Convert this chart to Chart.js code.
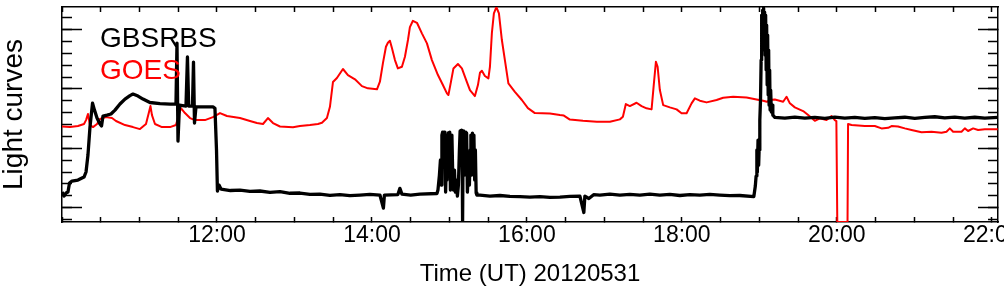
<!DOCTYPE html>
<html>
<head>
<meta charset="utf-8">
<script src="https://cdn.jsdelivr.net/npm/chart.js@4.4.0/dist/chart.umd.min.js"></script>
<style>
html, body { margin: 0; padding: 0; background: #fff; overflow: hidden; }
</style>
</head>
<body>
<canvas id="lc" width="1004" height="296"></canvas>
<script>
// time in decimal hours UT, flux in arbitrary plot units
var gbsTime = [
    10.000, 10.026, 10.052, 10.077, 10.097, 10.129, 10.206, 10.284, 10.310, 10.335,
    10.361, 10.394, 10.419, 10.452, 10.490, 10.510, 10.529, 10.581, 10.632, 10.684,
    10.748, 10.813, 10.877, 10.916, 10.981, 11.045, 11.135, 11.265, 11.394, 11.471,
    11.484, 11.497, 11.516, 11.600, 11.619, 11.635, 11.684, 11.697, 11.710, 11.729,
    11.845, 11.948, 11.974, 11.994, 12.006, 12.026, 12.052, 12.174, 12.297, 12.426,
    12.555, 12.684, 12.813, 12.942, 13.071, 13.200, 13.329, 13.458, 13.587, 13.716,
    13.845, 13.974, 14.103, 14.148, 14.161, 14.335, 14.361, 14.387, 14.500, 14.619,
    14.839, 14.852, 14.871, 14.884, 14.894, 14.903, 14.912, 14.923, 14.933, 14.942,
    14.951, 14.959, 14.968, 14.977, 14.987, 14.996, 15.004, 15.013, 15.022, 15.032,
    15.043, 15.052, 15.065, 15.077, 15.090, 15.103, 15.116, 15.129, 15.138, 15.148,
    15.157, 15.165, 15.170, 15.177, 15.184, 15.194, 15.203, 15.213, 15.222, 15.232,
    15.245, 15.258, 15.268, 15.277, 15.287, 15.297, 15.307, 15.316, 15.326, 15.335,
    15.345, 15.355, 15.394, 15.523, 15.652, 15.781, 15.910, 16.039, 16.168, 16.297,
    16.426, 16.555, 16.684, 16.735, 16.748, 16.800, 16.861, 16.942, 17.071, 17.200,
    17.329, 17.458, 17.587, 17.716, 17.845, 17.974, 18.103, 18.232, 18.361, 18.490,
    18.619, 18.748, 18.929, 18.948, 18.958, 18.968, 18.974, 18.983, 18.991, 18.997,
    19.006, 19.015, 19.023, 19.030, 19.036, 19.043, 19.049, 19.055, 19.062, 19.068,
    19.075, 19.081, 19.088, 19.094, 19.101, 19.107, 19.114, 19.120, 19.126, 19.133,
    19.139, 19.146, 19.155, 19.165, 19.174, 19.200, 19.329, 19.458, 19.587, 19.716,
    19.845, 19.974, 20.103, 20.232, 20.361, 20.490, 20.619, 20.748, 20.877, 21.006,
    21.135, 21.264, 21.393, 21.522, 21.651, 21.780, 21.909, 22.077
];
var gbsFlux = [
    1.32, 0.98, 1.24, 1.32, 2.08, 2.25, 2.33, 2.58, 3.01, 4.44,
    6.79, 8.81, 8.22, 7.55, 7.05, 6.89, 7.72, 7.80, 7.89, 8.22,
    8.73, 9.15, 9.44, 9.57, 9.40, 9.15, 8.86, 8.77, 8.73, 8.73,
    13.86, 5.61, 8.64, 8.56, 12.69, 8.56, 8.56, 12.26, 7.13, 8.50,
    8.50, 8.50, 8.37, 4.86, 1.41, 1.91, 1.57, 1.45, 1.49, 1.38,
    1.41, 1.30, 1.36, 1.22, 1.24, 1.12, 1.15, 1.05, 1.11, 1.02,
    1.07, 1.12, 1.07, -0.03, 1.07, 1.11, 1.63, 1.15, 1.07, 1.15,
    1.20, 1.49, 2.75, 4.02, 1.91, 6.12, 6.37, 3.59, 6.37, 4.86,
    1.32, 3.59, 2.33, 5.70, 6.29, 3.17, 6.37, 1.49, 4.86, 6.12,
    2.75, 1.49, 3.17, 1.32, 2.33, 0.98, 1.91, 4.86, 6.46, 3.59,
    6.54, 4.02, -1.30, 5.70, 6.46, 2.75, 6.37, 4.86, 6.29, 1.32,
    3.17, 1.91, 4.86, 6.12, 2.75, 6.29, 4.02, 6.12, 2.33, 4.86,
    1.24, 1.07, 1.07, 0.98, 1.03, 0.95, 0.93, 0.90, 0.93, 0.88,
    0.90, 0.95, 0.98, -0.40, 0.98, 0.78, 1.10, 1.07, 1.15, 1.07,
    1.12, 1.07, 1.15, 1.07, 1.12, 1.03, 1.10, 1.07, 1.12, 1.07,
    1.02, 1.03, 0.94, 1.83, 2.67, 4.86, 3.00, 5.70, 3.59, 4.86,
    7.38, 9.07, 12.43, 16.22, 13.27, 16.64, 13.70, 16.81, 14.12, 16.47,
    12.85, 16.22, 11.59, 15.38, 10.33, 14.54, 9.49, 13.27, 8.64, 11.59,
    8.22, 9.91, 8.06, 8.64, 7.80, 7.61, 7.55, 7.63, 7.55, 7.61,
    7.52, 7.63, 7.55, 7.61, 7.52, 7.58, 7.50, 7.57, 7.62, 7.52,
    7.60, 7.66, 7.57, 7.63, 7.55, 7.62, 7.55, 7.60
];

var goesTime = [
    10.000, 10.103, 10.206, 10.284, 10.310, 10.335, 10.361, 10.400, 10.452, 10.490,
    10.568, 10.645, 10.697, 10.813, 10.916, 11.006, 11.084, 11.123, 11.142, 11.161,
    11.200, 11.290, 11.394, 11.471, 11.510, 11.535, 11.587, 11.652, 11.716, 11.845,
    11.948, 12.039, 12.129, 12.297, 12.426, 12.516, 12.594, 12.658, 12.723, 12.813,
    12.981, 13.071, 13.200, 13.303, 13.355, 13.419, 13.458, 13.497, 13.548, 13.626,
    13.690, 13.781, 13.871, 13.948, 14.065, 14.103, 14.142, 14.181, 14.206, 14.232,
    14.258, 14.297, 14.335, 14.387, 14.426, 14.465, 14.490, 14.529, 14.581, 14.645,
    14.710, 14.774, 14.852, 14.916, 14.968, 14.987, 15.019, 15.052, 15.110, 15.161,
    15.226, 15.265, 15.329, 15.368, 15.394, 15.419, 15.458, 15.503, 15.523, 15.548,
    15.574, 15.606, 15.639, 15.677, 15.716, 15.761, 15.845, 15.935, 16.013, 16.103,
    16.297, 16.426, 16.477, 16.555, 16.723, 16.903, 17.071, 17.200, 17.239, 17.277,
    17.329, 17.415, 17.480, 17.544, 17.609, 17.639, 17.665, 17.687, 17.716, 17.759,
    17.845, 17.932, 17.996, 18.061, 18.125, 18.168, 18.232, 18.319, 18.448, 18.533,
    18.662, 18.835, 18.964, 19.049, 19.097, 19.135, 19.200, 19.307, 19.351, 19.394,
    19.458, 19.565, 19.630, 19.716, 19.781, 19.867, 19.932, 19.974, 19.994, 20.006,
    20.138, 20.145, 20.190, 20.361, 20.490, 20.577, 20.662, 20.706, 20.790, 20.877,
    20.964, 21.093, 21.222, 21.351, 21.415, 21.458, 21.501, 21.609, 21.652, 21.694,
    21.759, 21.823, 21.910, 22.077
];
var goesFlux = [
    6.84, 6.79, 6.88, 7.05, 7.38, 7.89, 6.96, 6.79, 7.05, 7.47,
    7.63, 7.55, 7.30, 6.96, 6.79, 6.62, 7.05, 8.06, 8.56, 7.80,
    7.05, 6.79, 6.79, 6.96, 7.89, 8.39, 7.97, 7.55, 7.38, 7.38,
    7.63, 7.97, 7.72, 7.55, 7.30, 7.13, 7.05, 7.55, 7.13, 6.84,
    6.77, 6.88, 6.96, 7.05, 7.15, 7.55, 8.50, 10.58, 10.92, 11.68,
    11.17, 10.81, 10.24, 10.05, 9.97, 10.61, 12.18, 13.55, 13.89, 14.06,
    13.44, 12.43, 11.73, 11.87, 12.71, 14.12, 15.21, 15.74, 15.57, 14.68,
    13.84, 12.43, 11.17, 10.33, 9.63, 9.49, 10.58, 11.73, 12.10, 11.73,
    10.58, 9.91, 9.40, 10.33, 11.36, 11.53, 11.09, 10.89, 11.87, 14.71,
    16.36, 16.89, 16.36, 14.12, 12.43, 10.47, 9.76, 9.07, 8.39, 7.97,
    7.93, 7.80, 7.76, 7.42, 7.32, 7.24, 7.24, 7.44, 7.66, 8.73,
    8.56, 8.84, 8.56, 8.37, 8.28, 10.47, 12.29, 11.87, 9.91, 8.64,
    8.45, 8.28, 7.95, 7.95, 8.79, 9.21, 9.01, 8.87, 9.07, 9.26,
    9.34, 9.29, 9.12, 9.01, 8.92, 9.07, 9.12, 8.92, 9.34, 8.79,
    8.45, 8.14, 7.80, 7.32, 7.53, 7.38, 7.72, 7.38, 7.30, -1.20,
    -1.20, 7.05, 6.96, 6.88, 6.88, 6.68, 6.73, 6.88, 6.84, 6.68,
    6.54, 6.35, 6.40, 6.31, 6.40, 6.68, 6.40, 6.40, 6.68, 6.46,
    6.68, 6.54, 6.60, 6.60
];

var labelHours = [12, 14, 16, 18, 20, 22];
var hourLabels = ['12:00', '14:00', '16:00', '18:00', '20:00', '22:00'];

function toPoints(t, v){
    var pts = [];
    for(var i = 0; i < t.length; i++){
        pts.push({x: t[i], y: v[i]});
    }
    return pts;
}

var fam = '"Liberation Sans", Arial, Helvetica, sans-serif';

// names of the curves written inside the plot, in the colour of the line
var curveNames = {
    id: 'curveNames',
    afterDatasetsDraw: function(chart){
        var ctx = chart.ctx;
        ctx.save();
        ctx.font = '28px ' + fam;
        ctx.textAlign = 'left';
        ctx.textBaseline = 'alphabetic';
        chart.data.datasets.forEach(function(ds, i){
            ctx.fillStyle = ds.borderColor;
            ctx.fillText(ds.label, 100, 47 + i * 31.6);
        });
        ctx.restore();
    }
};

var tickGrid = function(len){
    return { drawOnChartArea: false, tickLength: len, tickColor: '#000', tickWidth: 1.5 };
};
var frame = { display: true, color: '#000', width: 1.5 };

var ctx = document.getElementById('lc').getContext('2d');
var myChart = new Chart(ctx, {
    type: 'line',
    data: {
        datasets: [{
            label: 'GBSRBS',
            data: toPoints(gbsTime, gbsFlux),
            borderColor: '#000000',
            borderWidth: 3.3,
            borderJoinStyle: 'round',
            pointRadius: 0,
            tension: 0,
            xAxisID: 'x',
            yAxisID: 'y'
        },
        {
            label: 'GOES',
            data: toPoints(goesTime, goesFlux),
            borderColor: '#ff0000',
            borderWidth: 2,
            borderJoinStyle: 'round',
            pointRadius: 0,
            tension: 0,
            xAxisID: 'x',
            yAxisID: 'y'
        }]
    },
    options: {
        responsive: false,
        animation: false,
        devicePixelRatio: 1,
        layout: { padding: 0, autoPadding: false },
        plugins: {
            legend: { display: false },
            tooltip: { enabled: false }
        },
        scales: {
            x: {
                type: 'linear', position: 'bottom', min: 10, max: 22.08,
                ticks: {
                    stepSize: 0.5, includeBounds: false, autoSkip: false, maxRotation: 0,
                    padding: 7, color: '#000',
                    font: { family: fam, size: 23, lineHeight: 1 },
                    callback: function(v){
                        var k = labelHours.indexOf(v);
                        return k < 0 ? '' : hourLabels[k];
                    }
                },
                grid: tickGrid(-5),
                border: frame,
                title: {
                    display: true, text: 'Time (UT) 20120531', color: '#000',
                    font: { family: fam, size: 24, lineHeight: 1 },
                    padding: { top: 0, bottom: 10 }
                },
                afterFit: function(s){ s.height = 74; s.paddingLeft = 0; s.paddingRight = 0; }
            },
            xTop: {
                type: 'linear', position: 'top', min: 10, max: 22.08,
                ticks: { display: false, stepSize: 0.5, includeBounds: false, autoSkip: false },
                grid: tickGrid(-5),
                border: frame,
                afterFit: function(s){ s.height = 7; }
            },
            y: {
                type: 'linear', position: 'left', min: -1.2, max: 16.9, weight: 1,
                ticks: { display: false, stepSize: 5, includeBounds: false },
                grid: tickGrid(-20),
                border: frame,
                title: {
                    display: true, text: 'Light curves', color: '#000',
                    font: { family: fam, size: 28, lineHeight: 1 },
                    padding: 0
                },
                afterFit: function(s){ s.width = 62; }
            },
            yMinor: {
                type: 'linear', position: 'left', min: -1.2, max: 16.9, weight: 0,
                ticks: { display: false, stepSize: 1, includeBounds: false },
                grid: tickGrid(-10),
                border: { display: false },
                afterFit: function(s){ s.width = 0; }
            },
            yRight: {
                type: 'linear', position: 'right', min: -1.2, max: 16.9, weight: 1,
                ticks: { display: false, stepSize: 5, includeBounds: false },
                grid: tickGrid(-20),
                border: frame,
                afterFit: function(s){ s.width = 6; }
            },
            yRightMinor: {
                type: 'linear', position: 'right', min: -1.2, max: 16.9, weight: 0,
                ticks: { display: false, stepSize: 1, includeBounds: false },
                grid: tickGrid(-10),
                border: { display: false },
                afterFit: function(s){ s.width = 0; }
            }
        }
    },
    plugins: [curveNames]
});
</script>
</body>
</html>
